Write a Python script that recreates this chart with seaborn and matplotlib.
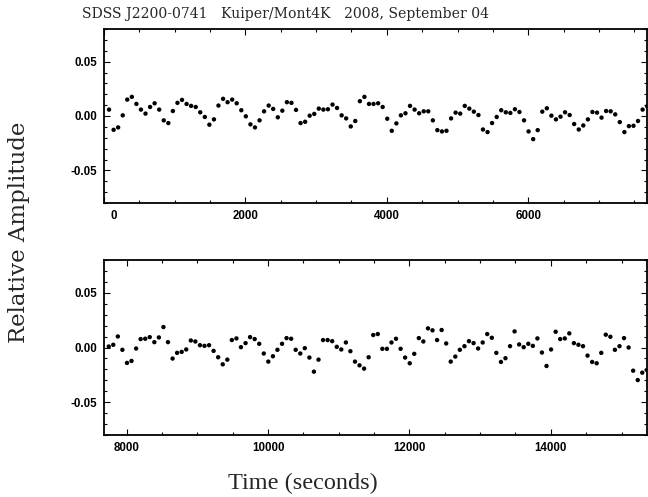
import numpy as np
import pandas as pd
import matplotlib
matplotlib.use("Agg")
import matplotlib.pyplot as plt
import matplotlib.transforms as mtransforms
import seaborn as sns
from matplotlib.ticker import MultipleLocator, FormatStrFormatter

# ---- data ----
time_top = [71, 136, 200, 265, 329, 394, 458, 523, 587, 652, 716, 781, 845, 910, 974, 1039,
            1103, 1168, 1232, 1297, 1361, 1426, 1490, 1555, 1619, 1684, 1748, 1813, 1877, 1942,
            2006, 2071, 2135, 2200, 2264, 2329, 2393, 2458, 2522, 2587, 2651, 2716, 2780, 2845,
            2909, 2974, 3038, 3103, 3167, 3232, 3296, 3361, 3425, 3490, 3554, 3619, 3683, 3748,
            3812, 3877, 3941, 4006, 4070, 4135, 4199, 4264, 4328, 4393, 4457, 4522, 4586, 4651,
            4715, 4780, 4844, 4909, 4973, 5038, 5102, 5167, 5231, 5296, 5360, 5425, 5489, 5554,
            5618, 5683, 5747, 5812, 5876, 5941, 6005, 6070, 6134, 6199, 6263, 6328, 6392, 6457,
            6521, 6586, 6650, 6715, 6779, 6844, 6908, 6973, 7037, 7102, 7166, 7231, 7295, 7360,
            7424, 7489, 7553, 7618, 7682]
amp_top = [0.0059, -0.0127, -0.0105, 0.0006, 0.0151, 0.0176, 0.0111, 0.0059, 0.0022, 0.0083,
           0.0117, 0.0059, -0.0040, -0.0065, 0.0046, 0.0121, 0.0148, 0.0111, 0.0093, 0.0083,
           0.0034, -0.0009, -0.0080, -0.0031, 0.0096, 0.0158, 0.0127, 0.0151, 0.0117, 0.0053,
           -0.0003, -0.0077, -0.0105, -0.0040, 0.0043, 0.0096, 0.0065, -0.0012, 0.0049, 0.0127,
           0.0121, 0.0056, -0.0065, -0.0053, 0.0003, 0.0019, 0.0068, 0.0059, 0.0062, 0.0105,
           0.0074, 0.0006, -0.0022, -0.0096, -0.0046, 0.0136, 0.0176, 0.0111, 0.0111, 0.0117,
           0.0083, -0.0025, -0.0136, -0.0068, 0.0006, 0.0025, 0.0093, 0.0059, 0.0025, 0.0043,
           0.0043, -0.0040, -0.0130, -0.0142, -0.0136, -0.0022, 0.0031, 0.0022, 0.0093, 0.0068,
           0.0040, 0.0009, -0.0124, -0.0148, -0.0065, -0.0009, 0.0053, 0.0034, 0.0028, 0.0062,
           0.0037, -0.0040, -0.0142, -0.0213, -0.0130, 0.0040, 0.0071, 0.0003, -0.0031, -0.0006,
           0.0034, 0.0009, -0.0074, -0.0124, -0.0087, -0.0031, 0.0037, 0.0031, -0.0015, 0.0046,
           0.0043, 0.0015, -0.0056, -0.0148, -0.0093, -0.0090, -0.0046, 0.0059, 0.0090]

time_bottom = [7747, 7811, 7876, 7940, 8005, 8069, 8134, 8198, 8263, 8327, 8392, 8456, 8521,
               8585, 8650, 8714, 8779, 8843, 8908, 8972, 9037, 9101, 9166, 9230, 9295, 9359,
               9424, 9488, 9553, 9617, 9682, 9746, 9811, 9875, 9940, 10004, 10069, 10133, 10198,
               10262, 10327, 10391, 10456, 10520, 10585, 10649, 10714, 10778, 10843, 10907,
               10972, 11036, 11101, 11165, 11230, 11294, 11359, 11423, 11488, 11552, 11617,
               11681, 11746, 11810, 11875, 11939, 12004, 12068, 12133, 12197, 12262, 12326,
               12391, 12455, 12520, 12584, 12649, 12713, 12778, 12842, 12907, 12971, 13036,
               13100, 13165, 13229, 13294, 13358, 13423, 13487, 13552, 13616, 13681, 13745,
               13810, 13874, 13939, 14003, 14068, 14132, 14197, 14261, 14326, 14390, 14455,
               14519, 14584, 14648, 14713, 14777, 14842, 14906, 14971, 15035, 15100, 15164,
               15229, 15293, 15358]
amp_bottom = [0.0009, 0.0025, 0.0101, -0.0021, -0.0141, -0.0123, -0.0009, 0.0077, 0.0080, 0.0095,
              0.0049, 0.0092, 0.0187, 0.0049, -0.0101, -0.0049, -0.0040, -0.0018, 0.0064, 0.0055,
              0.0021, 0.0015, 0.0021, -0.0031, -0.0089, -0.0154, -0.0111, 0.0068, 0.0083, 0.0003,
              0.0040, 0.0095, 0.0077, 0.0034, -0.0055, -0.0129, -0.0080, -0.0021, 0.0034, 0.0086,
              0.0080, -0.0021, -0.0055, -0.0006, -0.0092, -0.0221, -0.0111, 0.0068, 0.0068, 0.0058,
              0.0006, -0.0018, 0.0046, -0.0034, -0.0129, -0.0163, -0.0193, -0.0089, 0.0114, 0.0123,
              -0.0012, -0.0012, 0.0046, 0.0080, -0.0012, -0.0092, -0.0144, -0.0058, 0.0086, 0.0055,
              0.0175, 0.0157, 0.0068, 0.0160, 0.0037, -0.0129, -0.0083, -0.0021, 0.0012, 0.0058,
              0.0040, -0.0009, 0.0046, 0.0123, 0.0089, -0.0049, -0.0132, -0.0098, 0.0012, 0.0147,
              0.0028, 0.0003, 0.0034, 0.0015, 0.0083, -0.0046, -0.0169, -0.0018, 0.0144, 0.0077,
              0.0083, 0.0129, 0.0040, 0.0025, 0.0012, -0.0074, -0.0132, -0.0144, -0.0049, 0.0117,
              0.0098, -0.0021, 0.0012, 0.0086, 0.0000, -0.0212, -0.0298, -0.0230, -0.0206]

title_text = "SDSS J2200-0741   Kuiper/Mont4K   2008, September 04"
xlabel_text = "Time (seconds)"
ylabel_text = "Relative Amplitude"
x_ranges = [(0, 7680), (7680, 15360)]
y_range = (-0.08, 0.08)

df_top = pd.DataFrame({"t": time_top, "amp": amp_top})
df_bot = pd.DataFrame({"t": time_bottom, "amp": amp_bottom})

sns.set_style("ticks")
plt.rcParams["font.family"] = ["Liberation Sans", "DejaVu Sans"]

W, H = 648, 497
fig = plt.figure(figsize=(W / 100, H / 100), dpi=100)
fig.patch.set_facecolor("white")

def px_axes(l, t, r, b):
    return fig.add_axes([l / W, 1 - b / H, (r - l) / W, (b - t) / H])

ax1 = px_axes(104, 29, 647, 203)
ax2 = px_axes(104, 260, 647, 435)

for ax, df, xr in [(ax1, df_top, x_ranges[0]), (ax2, df_bot, x_ranges[1])]:
    sns.scatterplot(data=df, x="t", y="amp", ax=ax, color="black", s=10,
                    edgecolor="none", linewidth=0, legend=False)
    ax.set_xlim(*xr)
    ax.set_ylim(*y_range)
    ax.set_xlabel("")
    ax.set_ylabel("")
    ax.xaxis.set_major_locator(MultipleLocator(2000))
    ax.xaxis.set_minor_locator(MultipleLocator(500))
    ax.yaxis.set_major_locator(MultipleLocator(0.05))
    ax.yaxis.set_minor_locator(MultipleLocator(0.01))
    ax.yaxis.set_major_formatter(FormatStrFormatter("%.2f"))
    ax.tick_params(which="both", direction="in", top=True, right=True,
                   colors="black", labelsize=8.3, width=0.8)
    ax.tick_params(which="major", length=4, pad=5)
    ax.tick_params(which="minor", length=2)
    for lab in ax.get_xticklabels() + ax.get_yticklabels():
        lab.set_fontweight("bold")
    for sp in ax.spines.values():
        sp.set_visible(True)
        sp.set_linewidth(1.3)
        sp.set_color("black")
    ax.set_facecolor("white")

# the "0" label of the top panel sits a little to the right of the axis edge
fig.canvas.draw()
shift = mtransforms.ScaledTranslation(10 / 100, 0, fig.dpi_scale_trans)
for lab in ax1.get_xticklabels():
    if lab.get_text() == "0":
        lab.set_transform(lab.get_transform() + shift)

fig.text(82 / W, 1 - 18 / H, title_text, ha="left", va="baseline",
         fontsize=10.1, family=["DejaVu Serif"])
fig.text(303 / W, 1 - 489 / H, xlabel_text, ha="center", va="baseline",
         fontsize=17.5, family=["Liberation Serif", "DejaVu Serif"])
fig.text(19 / W, 1 - 232 / H, ylabel_text, ha="center", va="center", rotation=90,
         fontsize=16.5, family=["DejaVu Serif"])

fig.savefig("out.png", dpi=100, facecolor="white")
